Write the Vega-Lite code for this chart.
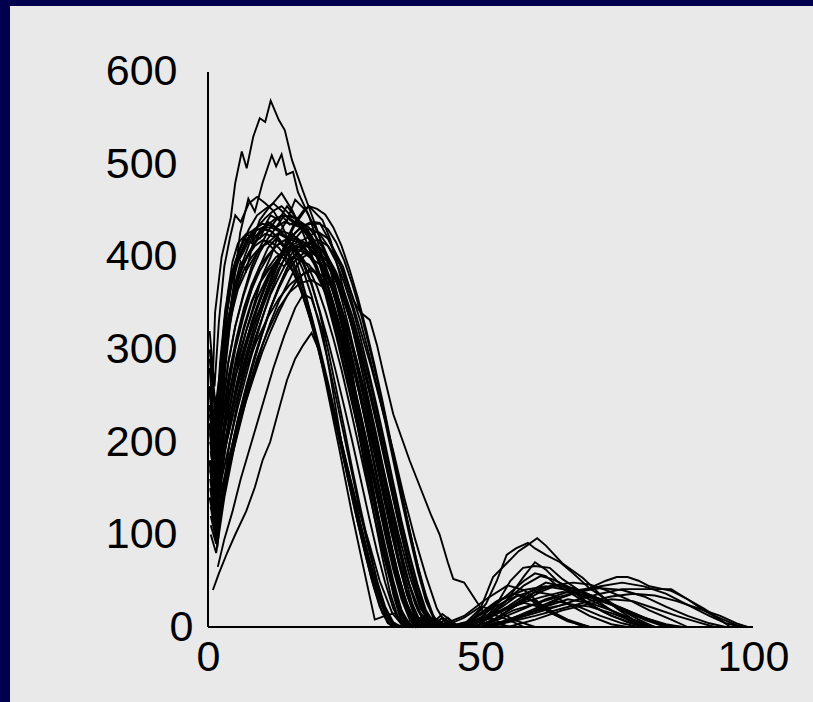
{
"$schema":"https://vega.github.io/schema/vega-lite/v6.json",
"width":803,"height":696,
"autosize":{"type":"none"},
"padding":{"left":10,"top":6,"right":0,"bottom":0},
"background":"#00004f",
"config":{"view":{"fill":"#e9e9e9","stroke":null},"axis":{"labelFont":"Liberation Sans","labelFontSize":43,"labelColor":"#000000","grid":false,"domain":false,"ticks":false,"labelOverlap":false,"labelFlush":false,"title":null}},
"datasets":{
"curves":[
{"c":1,"x":0.5,"y":200},{"c":1,"x":1.3,"y":340},{"c":1,"x":2.5,"y":400},{"c":1,"x":4.2,"y":443},{"c":1,"x":5,"y":480},{"c":1,"x":6.2,"y":514},{"c":1,"x":7.1,"y":496},{"c":1,"x":8.3,"y":530},{"c":1,"x":9.5,"y":550},{"c":1,"x":10.5,"y":546},{"c":1,"x":11.5,"y":569},{"c":1,"x":13,"y":548},{"c":1,"x":14.1,"y":537},{"c":1,"x":15.4,"y":505},{"c":1,"x":17.5,"y":470},{"c":1,"x":20,"y":430},{"c":1,"x":22.5,"y":385},{"c":1,"x":24.5,"y":330},{"c":1,"x":26.5,"y":270},{"c":1,"x":28.5,"y":205},{"c":1,"x":30.5,"y":140},{"c":1,"x":32.5,"y":80},{"c":1,"x":34,"y":35},{"c":1,"x":35.5,"y":5},{"c":1,"x":37,"y":0},{"c":1,"x":38.5,"y":6},{"c":1,"x":40,"y":0},{"c":1,"x":44,"y":5},{"c":1,"x":47,"y":0},{"c":1,"x":52,"y":10},{"c":1,"x":55,"y":0},
{"c":2,"x":0.5,"y":200},{"c":2,"x":1.5,"y":150},{"c":2,"x":3,"y":280},{"c":2,"x":4.5,"y":360},{"c":2,"x":5.9,"y":426},{"c":2,"x":7.4,"y":463},{"c":2,"x":8.6,"y":449},{"c":2,"x":10,"y":480},{"c":2,"x":11.7,"y":510},{"c":2,"x":12.5,"y":498},{"c":2,"x":13.5,"y":511},{"c":2,"x":14.4,"y":489},{"c":2,"x":15.6,"y":492},{"c":2,"x":16.5,"y":470},{"c":2,"x":18.5,"y":445},{"c":2,"x":21,"y":400},{"c":2,"x":23.5,"y":350},{"c":2,"x":26,"y":290},{"c":2,"x":28,"y":225},{"c":2,"x":30,"y":160},{"c":2,"x":32,"y":95},{"c":2,"x":34,"y":40},{"c":2,"x":35.5,"y":8},{"c":2,"x":37,"y":0},{"c":2,"x":39,"y":10},{"c":2,"x":41,"y":3},{"c":2,"x":43,"y":14},{"c":2,"x":46,"y":0},{"c":2,"x":50,"y":8},{"c":2,"x":54,"y":22},{"c":2,"x":57,"y":35},{"c":2,"x":60,"y":28},{"c":2,"x":63,"y":15},{"c":2,"x":67,"y":5},{"c":2,"x":70,"y":0},
{"c":3,"x":0.3,"y":260},{"c":3,"x":1.2,"y":170},{"c":3,"x":2,"y":260},{"c":3,"x":3,"y":330},{"c":3,"x":4,"y":372},{"c":3,"x":5,"y":395},{"c":3,"x":6.5,"y":420},{"c":3,"x":8,"y":415},{"c":3,"x":9.5,"y":440},{"c":3,"x":11,"y":452},{"c":3,"x":12.5,"y":462},{"c":3,"x":13.5,"y":469},{"c":3,"x":15.5,"y":450},{"c":3,"x":17.5,"y":425},{"c":3,"x":19.5,"y":395},{"c":3,"x":21.5,"y":360},{"c":3,"x":23.5,"y":315},{"c":3,"x":25.5,"y":265},{"c":3,"x":27.5,"y":215},{"c":3,"x":29,"y":165},{"c":3,"x":30.5,"y":120},{"c":3,"x":32,"y":75},{"c":3,"x":33.5,"y":35},{"c":3,"x":35,"y":8},{"c":3,"x":37,"y":0},{"c":3,"x":39,"y":6},{"c":3,"x":41,"y":0},{"c":3,"x":45,"y":3},{"c":3,"x":48,"y":0},
{"c":4,"x":0.4,"y":150},{"c":4,"x":1.6,"y":100},{"c":4,"x":2.5,"y":165},{"c":4,"x":4,"y":235},{"c":4,"x":5.5,"y":285},{"c":4,"x":7,"y":320},{"c":4,"x":8.5,"y":350},{"c":4,"x":10,"y":380},{"c":4,"x":11.5,"y":400},{"c":4,"x":13,"y":425},{"c":4,"x":14.5,"y":440},{"c":4,"x":16,"y":462},{"c":4,"x":18,"y":450},{"c":4,"x":20,"y":428},{"c":4,"x":22,"y":400},{"c":4,"x":23.5,"y":365},{"c":4,"x":25,"y":330},{"c":4,"x":26.5,"y":290},{"c":4,"x":28,"y":248},{"c":4,"x":29.5,"y":205},{"c":4,"x":31,"y":160},{"c":4,"x":32.5,"y":118},{"c":4,"x":34,"y":78},{"c":4,"x":35.5,"y":40},{"c":4,"x":37,"y":12},{"c":4,"x":38.5,"y":2},{"c":4,"x":40,"y":8},{"c":4,"x":42,"y":0},{"c":4,"x":47,"y":12},{"c":4,"x":51,"y":30},{"c":4,"x":55,"y":45},{"c":4,"x":58,"y":40},{"c":4,"x":61,"y":25},{"c":4,"x":65,"y":10},{"c":4,"x":69,"y":0},
{"c":5,"x":0.5,"y":300},{"c":5,"x":1.4,"y":220},{"c":5,"x":2.5,"y":235},{"c":5,"x":4,"y":255},{"c":5,"x":5.5,"y":280},{"c":5,"x":7,"y":305},{"c":5,"x":8.5,"y":330},{"c":5,"x":10,"y":350},{"c":5,"x":11.5,"y":375},{"c":5,"x":13,"y":395},{"c":5,"x":14.5,"y":420},{"c":5,"x":16,"y":438},{"c":5,"x":17.5,"y":450},{"c":5,"x":18.5,"y":455},{"c":5,"x":21,"y":440},{"c":5,"x":22.5,"y":418},{"c":5,"x":24,"y":385},{"c":5,"x":25.5,"y":350},{"c":5,"x":27,"y":310},{"c":5,"x":28.5,"y":270},{"c":5,"x":30,"y":228},{"c":5,"x":31.5,"y":185},{"c":5,"x":33,"y":140},{"c":5,"x":34.5,"y":98},{"c":5,"x":36,"y":58},{"c":5,"x":37.5,"y":25},{"c":5,"x":39,"y":5},{"c":5,"x":41,"y":0},{"c":5,"x":43,"y":10},{"c":5,"x":46,"y":0},{"c":5,"x":50,"y":15},{"c":5,"x":53,"y":28},{"c":5,"x":56,"y":36},{"c":5,"x":59,"y":30},{"c":5,"x":62,"y":18},{"c":5,"x":66,"y":6},{"c":5,"x":70,"y":0},
{"c":6,"x":0.3,"y":220},{"c":6,"x":1.5,"y":130},{"c":6,"x":2.3,"y":240},{"c":6,"x":3.2,"y":310},{"c":6,"x":4.5,"y":360},{"c":6,"x":6,"y":395},{"c":6,"x":7,"y":385},{"c":6,"x":8.5,"y":420},{"c":6,"x":10,"y":430},{"c":6,"x":11.5,"y":445},{"c":6,"x":13,"y":440},{"c":6,"x":14.5,"y":455},{"c":6,"x":16.5,"y":440},{"c":6,"x":18.5,"y":420},{"c":6,"x":20.5,"y":392},{"c":6,"x":22.5,"y":360},{"c":6,"x":24,"y":330},{"c":6,"x":25.5,"y":285},{"c":6,"x":27,"y":240},{"c":6,"x":28.5,"y":195},{"c":6,"x":30,"y":150},{"c":6,"x":31.5,"y":108},{"c":6,"x":33,"y":68},{"c":6,"x":34.5,"y":30},{"c":6,"x":36,"y":6},{"c":6,"x":38,"y":0},{"c":6,"x":40,"y":12},{"c":6,"x":42,"y":4},{"c":6,"x":44,"y":0},{"c":6,"x":48,"y":0},
{"c":7,"x":0.9,"y":40},{"c":7,"x":2,"y":58},{"c":7,"x":3.5,"y":80},{"c":7,"x":5,"y":100},{"c":7,"x":7,"y":125},{"c":7,"x":8.6,"y":151},{"c":7,"x":10,"y":180},{"c":7,"x":11.4,"y":200},{"c":7,"x":13,"y":235},{"c":7,"x":14.5,"y":267},{"c":7,"x":16,"y":290},{"c":7,"x":17.5,"y":305},{"c":7,"x":19,"y":318},{"c":7,"x":20.3,"y":300},{"c":7,"x":21.5,"y":267},{"c":7,"x":24,"y":195},{"c":7,"x":26.4,"y":123},{"c":7,"x":28.5,"y":65},{"c":7,"x":30.6,"y":8},{"c":7,"x":32.5,"y":12},{"c":7,"x":34.3,"y":15},{"c":7,"x":35.5,"y":3},{"c":7,"x":38,"y":0},{"c":7,"x":45,"y":0},
{"c":8,"x":1.8,"y":65},{"c":8,"x":3,"y":95},{"c":8,"x":4.5,"y":125},{"c":8,"x":6,"y":160},{"c":8,"x":8,"y":200},{"c":8,"x":10,"y":240},{"c":8,"x":12,"y":280},{"c":8,"x":14,"y":315},{"c":8,"x":16,"y":345},{"c":8,"x":17.5,"y":360},{"c":8,"x":19,"y":355},{"c":8,"x":21,"y":320},{"c":8,"x":22.5,"y":270},{"c":8,"x":24.6,"y":195},{"c":8,"x":27,"y":140},{"c":8,"x":29.4,"y":94},{"c":8,"x":31.5,"y":50},{"c":8,"x":33.8,"y":15},{"c":8,"x":35.5,"y":3},{"c":8,"x":37,"y":0},{"c":8,"x":39,"y":8},{"c":8,"x":41,"y":0},{"c":8,"x":44,"y":0},{"c":8,"x":48,"y":6},{"c":8,"x":52,"y":20},{"c":8,"x":56,"y":32},{"c":8,"x":60,"y":40},{"c":8,"x":64,"y":45},{"c":8,"x":68,"y":40},{"c":8,"x":72,"y":30},{"c":8,"x":76,"y":18},{"c":8,"x":80,"y":8},{"c":8,"x":84,"y":0},
{"c":9,"x":0.5,"y":180},{"c":9,"x":1.7,"y":86},{"c":9,"x":2.8,"y":150},{"c":9,"x":4,"y":200},{"c":9,"x":5.5,"y":245},{"c":9,"x":7,"y":280},{"c":9,"x":8.5,"y":310},{"c":9,"x":10,"y":335},{"c":9,"x":11.5,"y":360},{"c":9,"x":13,"y":378},{"c":9,"x":14.5,"y":395},{"c":9,"x":16,"y":410},{"c":9,"x":17.5,"y":405},{"c":9,"x":19,"y":398},{"c":9,"x":21,"y":390},{"c":9,"x":23,"y":372},{"c":9,"x":24.5,"y":345},{"c":9,"x":26,"y":312},{"c":9,"x":27.5,"y":275},{"c":9,"x":29,"y":235},{"c":9,"x":30.5,"y":195},{"c":9,"x":32,"y":150},{"c":9,"x":33.5,"y":110},{"c":9,"x":35,"y":70},{"c":9,"x":36.5,"y":35},{"c":9,"x":38,"y":10},{"c":9,"x":39.5,"y":0},{"c":9,"x":42,"y":8},{"c":9,"x":44,"y":0},{"c":9,"x":50,"y":0},{"c":9,"x":53,"y":10},{"c":9,"x":57,"y":25},{"c":9,"x":60,"y":38},{"c":9,"x":63,"y":35},{"c":9,"x":66,"y":25},{"c":9,"x":70,"y":12},{"c":9,"x":74,"y":3},{"c":9,"x":77,"y":0},
{"c":10,"x":0.3,"y":240},{"c":10,"x":1.3,"y":165},{"c":10,"x":2,"y":250},{"c":10,"x":3,"y":320},{"c":10,"x":4,"y":365},{"c":10,"x":5,"y":390},{"c":10,"x":6.5,"y":405},{"c":10,"x":8,"y":425},{"c":10,"x":9.5,"y":420},{"c":10,"x":11,"y":438},{"c":10,"x":12.5,"y":432},{"c":10,"x":14,"y":445},{"c":10,"x":15.5,"y":440},{"c":10,"x":17,"y":432},{"c":10,"x":19,"y":420},{"c":10,"x":20.5,"y":392},{"c":10,"x":22,"y":360},{"c":10,"x":23.5,"y":325},{"c":10,"x":25,"y":290},{"c":10,"x":26.5,"y":250},{"c":10,"x":28,"y":210},{"c":10,"x":29.5,"y":170},{"c":10,"x":31,"y":128},{"c":10,"x":32.5,"y":88},{"c":10,"x":34,"y":50},{"c":10,"x":35.5,"y":18},{"c":10,"x":37,"y":3},{"c":10,"x":39,"y":0},{"c":10,"x":41,"y":10},{"c":10,"x":43,"y":0},{"c":10,"x":47,"y":0},
{"c":11,"x":0.5,"y":130},{"c":11,"x":1.5,"y":95},{"c":11,"x":2.5,"y":140},{"c":11,"x":4,"y":185},{"c":11,"x":5.5,"y":225},{"c":11,"x":7,"y":258},{"c":11,"x":8.5,"y":290},{"c":11,"x":10,"y":318},{"c":11,"x":11.5,"y":345},{"c":11,"x":13,"y":368},{"c":11,"x":14.5,"y":388},{"c":11,"x":16,"y":402},{"c":11,"x":17.5,"y":410},{"c":11,"x":19,"y":415},{"c":11,"x":20.5,"y":410},{"c":11,"x":22,"y":400},{"c":11,"x":23.5,"y":384},{"c":11,"x":25,"y":362},{"c":11,"x":26.5,"y":336},{"c":11,"x":28,"y":304},{"c":11,"x":29.5,"y":270},{"c":11,"x":31,"y":232},{"c":11,"x":32.5,"y":192},{"c":11,"x":34,"y":152},{"c":11,"x":35.5,"y":112},{"c":11,"x":37,"y":75},{"c":11,"x":38.5,"y":42},{"c":11,"x":40,"y":15},{"c":11,"x":41.5,"y":3},{"c":11,"x":43,"y":0},{"c":11,"x":49,"y":0},{"c":11,"x":52,"y":12},{"c":11,"x":55,"y":30},{"c":11,"x":58,"y":55},{"c":11,"x":60,"y":70},{"c":11,"x":62,"y":62},{"c":11,"x":64,"y":50},{"c":11,"x":67,"y":38},{"c":11,"x":70,"y":25},{"c":11,"x":74,"y":12},{"c":11,"x":78,"y":4},{"c":11,"x":81,"y":0},
{"c":12,"x":0.5,"y":200},{"c":12,"x":1.5,"y":140},{"c":12,"x":3,"y":210},{"c":12,"x":5,"y":270},{"c":12,"x":7,"y":310},{"c":12,"x":9,"y":345},{"c":12,"x":11,"y":375},{"c":12,"x":13,"y":400},{"c":12,"x":15,"y":420},{"c":12,"x":17,"y":432},{"c":12,"x":19,"y":438},{"c":12,"x":20.5,"y":437},{"c":12,"x":22.5,"y":415},{"c":12,"x":24.8,"y":389},{"c":12,"x":26.7,"y":353},{"c":12,"x":28,"y":340},{"c":12,"x":29.7,"y":332},{"c":12,"x":31,"y":305},{"c":12,"x":32.2,"y":274},{"c":12,"x":34,"y":230},{"c":12,"x":37,"y":180},{"c":12,"x":39,"y":150},{"c":12,"x":41,"y":120},{"c":12,"x":42.5,"y":100},{"c":12,"x":44,"y":70},{"c":12,"x":45,"y":52},{"c":12,"x":47,"y":48},{"c":12,"x":49,"y":30},{"c":12,"x":51,"y":12},{"c":12,"x":53,"y":3},{"c":12,"x":56,"y":0},
{"c":13,"x":0.5,"y":190},{"c":13,"x":1.5,"y":150},{"c":13,"x":3,"y":220},{"c":13,"x":5,"y":280},{"c":13,"x":7,"y":320},{"c":13,"x":9,"y":355},{"c":13,"x":11,"y":380},{"c":13,"x":13,"y":400},{"c":13,"x":15,"y":412},{"c":13,"x":18,"y":420},{"c":13,"x":20,"y":428},{"c":13,"x":22,"y":420},{"c":13,"x":24,"y":395},{"c":13,"x":26,"y":360},{"c":13,"x":28,"y":320},{"c":13,"x":30,"y":280},{"c":13,"x":32,"y":235},{"c":13,"x":34,"y":190},{"c":13,"x":36,"y":140},{"c":13,"x":38,"y":95},{"c":13,"x":40,"y":55},{"c":13,"x":42,"y":20},{"c":13,"x":43.5,"y":5},{"c":13,"x":46,"y":0},{"c":13,"x":52,"y":0},
{"c":14,"x":0.4,"y":160},{"c":14,"x":1.5,"y":110},{"c":14,"x":2.3,"y":215},{"c":14,"x":3.2,"y":290},{"c":14,"x":4.2,"y":335},{"c":14,"x":5.5,"y":365},{"c":14,"x":7,"y":385},{"c":14,"x":8.5,"y":400},{"c":14,"x":10,"y":412},{"c":14,"x":11.5,"y":418},{"c":14,"x":13,"y":425},{"c":14,"x":14.5,"y":420},{"c":14,"x":16,"y":410},{"c":14,"x":17.5,"y":395},{"c":14,"x":19,"y":372},{"c":14,"x":20.5,"y":340},{"c":14,"x":22,"y":300},{"c":14,"x":23.5,"y":258},{"c":14,"x":25,"y":215},{"c":14,"x":26.5,"y":170},{"c":14,"x":28,"y":128},{"c":14,"x":29.5,"y":88},{"c":14,"x":31,"y":50},{"c":14,"x":32.5,"y":18},{"c":14,"x":34,"y":3},{"c":14,"x":36,"y":0},{"c":14,"x":38,"y":7},{"c":14,"x":40,"y":0},{"c":14,"x":46,"y":0},{"c":14,"x":50,"y":8},{"c":14,"x":54,"y":18},{"c":14,"x":58,"y":26},{"c":14,"x":62,"y":20},{"c":14,"x":66,"y":8},{"c":14,"x":70,"y":0},
{"c":15,"x":0.3,"y":280},{"c":15,"x":1.3,"y":200},{"c":15,"x":2.2,"y":285},{"c":15,"x":3.2,"y":345},{"c":15,"x":4.5,"y":385},{"c":15,"x":6,"y":410},{"c":15,"x":7.5,"y":430},{"c":15,"x":9,"y":445},{"c":15,"x":10.5,"y":452},{"c":15,"x":12,"y":458},{"c":15,"x":13.5,"y":450},{"c":15,"x":15,"y":440},{"c":15,"x":16.5,"y":435},{"c":15,"x":18,"y":425},{"c":15,"x":19.5,"y":410},{"c":15,"x":21,"y":388},{"c":15,"x":22.5,"y":358},{"c":15,"x":24,"y":320},{"c":15,"x":25.5,"y":280},{"c":15,"x":27,"y":238},{"c":15,"x":28.5,"y":195},{"c":15,"x":30,"y":152},{"c":15,"x":31.5,"y":110},{"c":15,"x":33,"y":70},{"c":15,"x":34.5,"y":35},{"c":15,"x":36,"y":10},{"c":15,"x":37.5,"y":0},{"c":15,"x":39.5,"y":8},{"c":15,"x":41,"y":0},{"c":15,"x":44,"y":0},
{"c":16,"x":0.5,"y":110},{"c":16,"x":1.5,"y":90},{"c":16,"x":2.5,"y":130},{"c":16,"x":4,"y":175},{"c":16,"x":5.5,"y":210},{"c":16,"x":7,"y":245},{"c":16,"x":8.5,"y":275},{"c":16,"x":10,"y":305},{"c":16,"x":11.5,"y":330},{"c":16,"x":13,"y":352},{"c":16,"x":14.5,"y":370},{"c":16,"x":16,"y":388},{"c":16,"x":17.5,"y":400},{"c":16,"x":19,"y":405},{"c":16,"x":20.5,"y":402},{"c":16,"x":22,"y":395},{"c":16,"x":23.5,"y":380},{"c":16,"x":25,"y":355},{"c":16,"x":26.5,"y":322},{"c":16,"x":28,"y":285},{"c":16,"x":29.5,"y":245},{"c":16,"x":31,"y":205},{"c":16,"x":32.5,"y":162},{"c":16,"x":34,"y":120},{"c":16,"x":35.5,"y":80},{"c":16,"x":37,"y":45},{"c":16,"x":38.5,"y":18},{"c":16,"x":40,"y":3},{"c":16,"x":42,"y":0},{"c":16,"x":45,"y":0},{"c":16,"x":49,"y":6},{"c":16,"x":53,"y":15},{"c":16,"x":57,"y":25},{"c":16,"x":61,"y":32},{"c":16,"x":65,"y":38},{"c":16,"x":69,"y":35},{"c":16,"x":73,"y":28},{"c":16,"x":77,"y":18},{"c":16,"x":81,"y":8},{"c":16,"x":85,"y":0},
{"c":17,"x":0.4,"y":210},{"c":17,"x":1.6,"y":140},{"c":17,"x":2.6,"y":205},{"c":17,"x":3.8,"y":260},{"c":17,"x":5,"y":300},{"c":17,"x":6.5,"y":335},{"c":17,"x":8,"y":365},{"c":17,"x":9.5,"y":390},{"c":17,"x":11,"y":410},{"c":17,"x":12.5,"y":420},{"c":17,"x":14,"y":410},{"c":17,"x":15.5,"y":425},{"c":17,"x":17,"y":412},{"c":17,"x":18.5,"y":405},{"c":17,"x":20,"y":390},{"c":17,"x":21.5,"y":362},{"c":17,"x":23,"y":330},{"c":17,"x":24.5,"y":295},{"c":17,"x":26,"y":256},{"c":17,"x":27.5,"y":215},{"c":17,"x":29,"y":172},{"c":17,"x":30.5,"y":130},{"c":17,"x":32,"y":88},{"c":17,"x":33.5,"y":50},{"c":17,"x":35,"y":20},{"c":17,"x":36.5,"y":4},{"c":17,"x":38.5,"y":0},{"c":17,"x":41,"y":9},{"c":17,"x":43,"y":0},{"c":17,"x":48,"y":0},
{"c":18,"x":0.3,"y":300},{"c":18,"x":1.4,"y":240},{"c":18,"x":2.3,"y":280},{"c":18,"x":3.5,"y":330},{"c":18,"x":5,"y":365},{"c":18,"x":6.5,"y":392},{"c":18,"x":8,"y":410},{"c":18,"x":9.5,"y":425},{"c":18,"x":11,"y":435},{"c":18,"x":12.5,"y":442},{"c":18,"x":14,"y":445},{"c":18,"x":15.5,"y":443},{"c":18,"x":17,"y":438},{"c":18,"x":18.5,"y":432},{"c":18,"x":20,"y":420},{"c":18,"x":21.5,"y":405},{"c":18,"x":23,"y":385},{"c":18,"x":24.5,"y":355},{"c":18,"x":26,"y":320},{"c":18,"x":27.5,"y":282},{"c":18,"x":29,"y":242},{"c":18,"x":30.5,"y":200},{"c":18,"x":32,"y":158},{"c":18,"x":33.5,"y":115},{"c":18,"x":35,"y":75},{"c":18,"x":36.5,"y":40},{"c":18,"x":38,"y":14},{"c":18,"x":39.5,"y":3},{"c":18,"x":41,"y":0},{"c":18,"x":47,"y":0},{"c":18,"x":51,"y":10},{"c":18,"x":55,"y":22},{"c":18,"x":59,"y":38},{"c":18,"x":62,"y":48},{"c":18,"x":65,"y":44},{"c":18,"x":68,"y":36},{"c":18,"x":72,"y":28},{"c":18,"x":76,"y":20},{"c":18,"x":80,"y":10},{"c":18,"x":84,"y":2},{"c":18,"x":87,"y":0},
{"c":19,"x":0.5,"y":170},{"c":19,"x":1.5,"y":120},{"c":19,"x":2.5,"y":150},{"c":19,"x":4,"y":185},{"c":19,"x":5.5,"y":215},{"c":19,"x":7,"y":245},{"c":19,"x":8.5,"y":272},{"c":19,"x":10,"y":298},{"c":19,"x":11.5,"y":320},{"c":19,"x":13,"y":340},{"c":19,"x":14.5,"y":358},{"c":19,"x":16,"y":372},{"c":19,"x":17.5,"y":382},{"c":19,"x":19,"y":388},{"c":19,"x":20.5,"y":380},{"c":19,"x":22,"y":362},{"c":19,"x":23.5,"y":338},{"c":19,"x":25,"y":305},{"c":19,"x":26.5,"y":268},{"c":19,"x":28,"y":228},{"c":19,"x":29.5,"y":186},{"c":19,"x":31,"y":142},{"c":19,"x":32.5,"y":100},{"c":19,"x":34,"y":62},{"c":19,"x":35.5,"y":30},{"c":19,"x":37,"y":8},{"c":19,"x":38.5,"y":0},{"c":19,"x":40.5,"y":10},{"c":19,"x":42.5,"y":2},{"c":19,"x":46,"y":0},
{"c":20,"x":0.4,"y":250},{"c":20,"x":1.5,"y":180},{"c":20,"x":2.5,"y":230},{"c":20,"x":3.7,"y":285},{"c":20,"x":5,"y":325},{"c":20,"x":6.5,"y":358},{"c":20,"x":8,"y":385},{"c":20,"x":9.5,"y":405},{"c":20,"x":11,"y":420},{"c":20,"x":12.5,"y":432},{"c":20,"x":14,"y":438},{"c":20,"x":15.5,"y":435},{"c":20,"x":17,"y":432},{"c":20,"x":18.5,"y":425},{"c":20,"x":20,"y":410},{"c":20,"x":21.5,"y":388},{"c":20,"x":23,"y":362},{"c":20,"x":24.5,"y":332},{"c":20,"x":26,"y":298},{"c":20,"x":27.5,"y":260},{"c":20,"x":29,"y":220},{"c":20,"x":30.5,"y":178},{"c":20,"x":32,"y":135},{"c":20,"x":33.5,"y":92},{"c":20,"x":35,"y":55},{"c":20,"x":36.5,"y":25},{"c":20,"x":38,"y":8},{"c":20,"x":39.5,"y":0},{"c":20,"x":47,"y":0},{"c":20,"x":50,"y":10},{"c":20,"x":53,"y":25},{"c":20,"x":56,"y":40},{"c":20,"x":58,"y":50},{"c":20,"x":60,"y":58},{"c":20,"x":62,"y":55},{"c":20,"x":64,"y":45},{"c":20,"x":67,"y":35},{"c":20,"x":70,"y":24},{"c":20,"x":73,"y":15},{"c":20,"x":77,"y":5},{"c":20,"x":80,"y":0},
{"c":21,"x":0.5,"y":190},{"c":21,"x":1.5,"y":150},{"c":21,"x":2.5,"y":185},{"c":21,"x":4,"y":225},{"c":21,"x":5.5,"y":260},{"c":21,"x":7,"y":290},{"c":21,"x":8.5,"y":318},{"c":21,"x":10,"y":345},{"c":21,"x":11.5,"y":368},{"c":21,"x":13,"y":388},{"c":21,"x":14.5,"y":402},{"c":21,"x":16,"y":412},{"c":21,"x":17.5,"y":416},{"c":21,"x":19,"y":414},{"c":21,"x":20.5,"y":410},{"c":21,"x":22,"y":397},{"c":21,"x":23.5,"y":380},{"c":21,"x":25,"y":358},{"c":21,"x":26.5,"y":330},{"c":21,"x":28,"y":298},{"c":21,"x":29.5,"y":262},{"c":21,"x":31,"y":225},{"c":21,"x":32.5,"y":185},{"c":21,"x":34,"y":145},{"c":21,"x":35.5,"y":105},{"c":21,"x":37,"y":68},{"c":21,"x":38.5,"y":36},{"c":21,"x":40,"y":12},{"c":21,"x":41.5,"y":2},{"c":21,"x":43,"y":0},{"c":21,"x":48,"y":0},{"c":21,"x":52,"y":6},{"c":21,"x":56,"y":18},{"c":21,"x":60,"y":25},{"c":21,"x":64,"y":32},{"c":21,"x":68,"y":38},{"c":21,"x":72,"y":42},{"c":21,"x":76,"y":40},{"c":21,"x":80,"y":33},{"c":21,"x":84,"y":22},{"c":21,"x":88,"y":12},{"c":21,"x":92,"y":4},{"c":21,"x":95,"y":0},
{"c":22,"x":0.3,"y":140},{"c":22,"x":1.4,"y":105},{"c":22,"x":2.2,"y":200},{"c":22,"x":3,"y":270},{"c":22,"x":4,"y":325},{"c":22,"x":5,"y":360},{"c":22,"x":6.5,"y":385},{"c":22,"x":8,"y":400},{"c":22,"x":9.5,"y":410},{"c":22,"x":11,"y":415},{"c":22,"x":12.5,"y":405},{"c":22,"x":14,"y":398},{"c":22,"x":15.5,"y":385},{"c":22,"x":17,"y":365},{"c":22,"x":18.5,"y":338},{"c":22,"x":20,"y":305},{"c":22,"x":21.5,"y":270},{"c":22,"x":23,"y":232},{"c":22,"x":24.5,"y":192},{"c":22,"x":26,"y":152},{"c":22,"x":27.5,"y":112},{"c":22,"x":29,"y":75},{"c":22,"x":30.5,"y":42},{"c":22,"x":32,"y":15},{"c":22,"x":33.5,"y":2},{"c":22,"x":35,"y":0},{"c":22,"x":44,"y":0},{"c":22,"x":47,"y":5},{"c":22,"x":50,"y":0},
{"c":23,"x":0.4,"y":230},{"c":23,"x":1.5,"y":175},{"c":23,"x":2.5,"y":230},{"c":23,"x":3.7,"y":285},{"c":23,"x":5,"y":325},{"c":23,"x":6.5,"y":360},{"c":23,"x":8,"y":390},{"c":23,"x":9.5,"y":410},{"c":23,"x":11,"y":428},{"c":23,"x":12.5,"y":440},{"c":23,"x":13.5,"y":445},{"c":23,"x":15,"y":435},{"c":23,"x":16.5,"y":440},{"c":23,"x":18.5,"y":425},{"c":23,"x":20,"y":405},{"c":23,"x":21.5,"y":380},{"c":23,"x":23,"y":350},{"c":23,"x":24.5,"y":316},{"c":23,"x":26,"y":280},{"c":23,"x":27.5,"y":242},{"c":23,"x":29,"y":202},{"c":23,"x":30.5,"y":162},{"c":23,"x":32,"y":122},{"c":23,"x":33.5,"y":82},{"c":23,"x":35,"y":46},{"c":23,"x":36.5,"y":18},{"c":23,"x":38,"y":3},{"c":23,"x":40,"y":0},{"c":23,"x":45,"y":0},{"c":23,"x":47,"y":3},{"c":23,"x":50,"y":20},{"c":23,"x":52.3,"y":54},{"c":23,"x":55,"y":70},{"c":23,"x":57,"y":82},{"c":23,"x":58.5,"y":88},{"c":23,"x":60.4,"y":96},{"c":23,"x":62,"y":88},{"c":23,"x":65,"y":69},{"c":23,"x":68.8,"y":53},{"c":23,"x":72,"y":35},{"c":23,"x":75,"y":20},{"c":23,"x":78,"y":8},{"c":23,"x":81,"y":0},
{"c":24,"x":0.3,"y":260},{"c":24,"x":1.5,"y":210},{"c":24,"x":2.4,"y":265},{"c":24,"x":3.5,"y":320},{"c":24,"x":4.8,"y":360},{"c":24,"x":6.2,"y":392},{"c":24,"x":7.6,"y":415},{"c":24,"x":9,"y":432},{"c":24,"x":10.5,"y":442},{"c":24,"x":12,"y":450},{"c":24,"x":13.5,"y":455},{"c":24,"x":15,"y":446},{"c":24,"x":16.5,"y":440},{"c":24,"x":18,"y":432},{"c":24,"x":19.5,"y":418},{"c":24,"x":21,"y":400},{"c":24,"x":22.5,"y":375},{"c":24,"x":24,"y":345},{"c":24,"x":25.5,"y":310},{"c":24,"x":27,"y":272},{"c":24,"x":28.5,"y":232},{"c":24,"x":30,"y":190},{"c":24,"x":31.5,"y":148},{"c":24,"x":33,"y":106},{"c":24,"x":34.5,"y":66},{"c":24,"x":36,"y":34},{"c":24,"x":37.5,"y":10},{"c":24,"x":39,"y":0},{"c":24,"x":41,"y":8},{"c":24,"x":43,"y":0},{"c":24,"x":45,"y":0},{"c":24,"x":48,"y":5},{"c":24,"x":51,"y":25},{"c":24,"x":53,"y":50},{"c":24,"x":54.8,"y":78},{"c":24,"x":56.5,"y":85},{"c":24,"x":58.7,"y":91},{"c":24,"x":60,"y":85},{"c":24,"x":62,"y":78},{"c":24,"x":64.6,"y":70},{"c":24,"x":67,"y":58},{"c":24,"x":70,"y":42},{"c":24,"x":73,"y":30},{"c":24,"x":76,"y":18},{"c":24,"x":79,"y":8},{"c":24,"x":82,"y":0},
{"c":25,"x":0.5,"y":170},{"c":25,"x":1.5,"y":130},{"c":25,"x":2.5,"y":160},{"c":25,"x":4,"y":200},{"c":25,"x":5.5,"y":238},{"c":25,"x":7,"y":272},{"c":25,"x":8.5,"y":305},{"c":25,"x":10,"y":335},{"c":25,"x":11.5,"y":362},{"c":25,"x":13,"y":385},{"c":25,"x":14.5,"y":405},{"c":25,"x":16,"y":420},{"c":25,"x":17.5,"y":430},{"c":25,"x":19,"y":430},{"c":25,"x":20.5,"y":425},{"c":25,"x":22,"y":412},{"c":25,"x":23.5,"y":395},{"c":25,"x":25,"y":372},{"c":25,"x":26.5,"y":345},{"c":25,"x":28,"y":312},{"c":25,"x":29.5,"y":276},{"c":25,"x":31,"y":238},{"c":25,"x":32.5,"y":198},{"c":25,"x":34,"y":156},{"c":25,"x":35.5,"y":115},{"c":25,"x":37,"y":78},{"c":25,"x":38.5,"y":45},{"c":25,"x":40,"y":18},{"c":25,"x":41.5,"y":4},{"c":25,"x":43,"y":0},{"c":25,"x":48,"y":0},{"c":25,"x":51,"y":10},{"c":25,"x":53,"y":25},{"c":25,"x":55.5,"y":50},{"c":25,"x":57.8,"y":64},{"c":25,"x":60,"y":66},{"c":25,"x":62.7,"y":64},{"c":25,"x":65,"y":52},{"c":25,"x":68,"y":40},{"c":25,"x":71,"y":30},{"c":25,"x":74,"y":18},{"c":25,"x":77,"y":8},{"c":25,"x":80,"y":0},
{"c":26,"x":0.4,"y":200},{"c":26,"x":1.5,"y":160},{"c":26,"x":2.5,"y":215},{"c":26,"x":3.8,"y":268},{"c":26,"x":5.2,"y":308},{"c":26,"x":6.6,"y":340},{"c":26,"x":8,"y":365},{"c":26,"x":9.5,"y":385},{"c":26,"x":11,"y":400},{"c":26,"x":12.5,"y":412},{"c":26,"x":14,"y":418},{"c":26,"x":15.5,"y":420},{"c":26,"x":17,"y":418},{"c":26,"x":18.5,"y":412},{"c":26,"x":20,"y":400},{"c":26,"x":21.5,"y":384},{"c":26,"x":23,"y":362},{"c":26,"x":24.5,"y":335},{"c":26,"x":26,"y":302},{"c":26,"x":27.5,"y":266},{"c":26,"x":29,"y":228},{"c":26,"x":30.5,"y":188},{"c":26,"x":32,"y":146},{"c":26,"x":33.5,"y":105},{"c":26,"x":35,"y":68},{"c":26,"x":36.5,"y":36},{"c":26,"x":38,"y":12},{"c":26,"x":39.5,"y":2},{"c":26,"x":41,"y":0},{"c":26,"x":43,"y":10},{"c":26,"x":45,"y":0},{"c":26,"x":50,"y":0},{"c":26,"x":54,"y":10},{"c":26,"x":58,"y":20},{"c":26,"x":62,"y":30},{"c":26,"x":66,"y":38},{"c":26,"x":70,"y":42},{"c":26,"x":73,"y":50},{"c":26,"x":75,"y":54},{"c":26,"x":77,"y":54},{"c":26,"x":79,"y":50},{"c":26,"x":81,"y":44},{"c":26,"x":85,"y":39},{"c":26,"x":88,"y":30},{"c":26,"x":91,"y":20},{"c":26,"x":93,"y":12},{"c":26,"x":95,"y":7},{"c":26,"x":97,"y":2},{"c":26,"x":99,"y":0},
{"c":27,"x":0.5,"y":150},{"c":27,"x":1.5,"y":115},{"c":27,"x":2.5,"y":170},{"c":27,"x":3.8,"y":220},{"c":27,"x":5.2,"y":262},{"c":27,"x":6.6,"y":298},{"c":27,"x":8,"y":330},{"c":27,"x":9.5,"y":355},{"c":27,"x":11,"y":378},{"c":27,"x":12.5,"y":395},{"c":27,"x":14,"y":406},{"c":27,"x":15.5,"y":412},{"c":27,"x":17,"y":410},{"c":27,"x":18.5,"y":402},{"c":27,"x":20,"y":388},{"c":27,"x":21.5,"y":368},{"c":27,"x":23,"y":344},{"c":27,"x":24.5,"y":314},{"c":27,"x":26,"y":280},{"c":27,"x":27.5,"y":244},{"c":27,"x":29,"y":205},{"c":27,"x":30.5,"y":165},{"c":27,"x":32,"y":124},{"c":27,"x":33.5,"y":84},{"c":27,"x":35,"y":48},{"c":27,"x":36.5,"y":18},{"c":27,"x":38,"y":3},{"c":27,"x":39.5,"y":0},{"c":27,"x":41,"y":8},{"c":27,"x":43,"y":0},{"c":27,"x":52,"y":0},{"c":27,"x":56,"y":8},{"c":27,"x":60,"y":15},{"c":27,"x":64,"y":22},{"c":27,"x":68,"y":30},{"c":27,"x":72,"y":36},{"c":27,"x":76,"y":41},{"c":27,"x":80,"y":41},{"c":27,"x":83,"y":41},{"c":27,"x":85,"y":41},{"c":27,"x":88,"y":30},{"c":27,"x":91,"y":18},{"c":27,"x":94,"y":8},{"c":27,"x":95.8,"y":0},
{"c":28,"x":0.3,"y":220},{"c":28,"x":1.4,"y":170},{"c":28,"x":2.2,"y":260},{"c":28,"x":3.1,"y":325},{"c":28,"x":4.2,"y":370},{"c":28,"x":5.5,"y":398},{"c":28,"x":7,"y":418},{"c":28,"x":8.5,"y":430},{"c":28,"x":10,"y":436},{"c":28,"x":11.5,"y":434},{"c":28,"x":13,"y":430},{"c":28,"x":14.5,"y":420},{"c":28,"x":16,"y":405},{"c":28,"x":17.5,"y":385},{"c":28,"x":19,"y":358},{"c":28,"x":20.5,"y":325},{"c":28,"x":22,"y":288},{"c":28,"x":23.5,"y":248},{"c":28,"x":25,"y":206},{"c":28,"x":26.5,"y":164},{"c":28,"x":28,"y":122},{"c":28,"x":29.5,"y":84},{"c":28,"x":31,"y":50},{"c":28,"x":32.5,"y":22},{"c":28,"x":34,"y":5},{"c":28,"x":35.5,"y":0},{"c":28,"x":37.5,"y":9},{"c":28,"x":39,"y":0},{"c":28,"x":48,"y":0},
{"c":29,"x":0.4,"y":180},{"c":29,"x":1.5,"y":135},{"c":29,"x":2.5,"y":195},{"c":29,"x":3.8,"y":250},{"c":29,"x":5.2,"y":292},{"c":29,"x":6.6,"y":325},{"c":29,"x":8,"y":352},{"c":29,"x":9.5,"y":372},{"c":29,"x":11,"y":385},{"c":29,"x":12.5,"y":395},{"c":29,"x":14,"y":390},{"c":29,"x":15.5,"y":400},{"c":29,"x":17,"y":396},{"c":29,"x":18.5,"y":392},{"c":29,"x":20,"y":380},{"c":29,"x":21.5,"y":362},{"c":29,"x":23,"y":338},{"c":29,"x":24.5,"y":308},{"c":29,"x":26,"y":274},{"c":29,"x":27.5,"y":238},{"c":29,"x":29,"y":198},{"c":29,"x":30.5,"y":158},{"c":29,"x":32,"y":118},{"c":29,"x":33.5,"y":80},{"c":29,"x":35,"y":45},{"c":29,"x":36.5,"y":18},{"c":29,"x":38,"y":3},{"c":29,"x":39.5,"y":0},{"c":29,"x":46,"y":0},{"c":29,"x":50,"y":14},{"c":29,"x":54,"y":30},{"c":29,"x":58,"y":40},{"c":29,"x":62,"y":44},{"c":29,"x":66,"y":40},{"c":29,"x":70,"y":30},{"c":29,"x":74,"y":18},{"c":29,"x":78,"y":8},{"c":29,"x":82,"y":0},
{"c":30,"x":0.5,"y":120},{"c":30,"x":1.5,"y":95},{"c":30,"x":2.5,"y":135},{"c":30,"x":4,"y":180},{"c":30,"x":5.5,"y":220},{"c":30,"x":7,"y":255},{"c":30,"x":8.5,"y":288},{"c":30,"x":10,"y":318},{"c":30,"x":11.5,"y":345},{"c":30,"x":13,"y":368},{"c":30,"x":14.5,"y":388},{"c":30,"x":16,"y":402},{"c":30,"x":17.5,"y":412},{"c":30,"x":19,"y":418},{"c":30,"x":20.5,"y":418},{"c":30,"x":22,"y":412},{"c":30,"x":23.5,"y":400},{"c":30,"x":25,"y":382},{"c":30,"x":26.5,"y":358},{"c":30,"x":28,"y":330},{"c":30,"x":29.5,"y":296},{"c":30,"x":31,"y":260},{"c":30,"x":32.5,"y":222},{"c":30,"x":34,"y":180},{"c":30,"x":35.5,"y":138},{"c":30,"x":37,"y":98},{"c":30,"x":38.5,"y":60},{"c":30,"x":40,"y":28},{"c":30,"x":41.5,"y":8},{"c":30,"x":43,"y":0},{"c":30,"x":50,"y":0},{"c":30,"x":55,"y":6},{"c":30,"x":60,"y":18},{"c":30,"x":64,"y":28},{"c":30,"x":68,"y":22},{"c":30,"x":72,"y":12},{"c":30,"x":76,"y":4},{"c":30,"x":79,"y":0},
{"c":31,"x":0.3,"y":260},{"c":31,"x":1.4,"y":200},{"c":31,"x":2.2,"y":275},{"c":31,"x":3.2,"y":340},{"c":31,"x":4.4,"y":382},{"c":31,"x":5.8,"y":408},{"c":31,"x":7.2,"y":425},{"c":31,"x":8.6,"y":430},{"c":31,"x":10,"y":430},{"c":31,"x":11.5,"y":428},{"c":31,"x":13,"y":420},{"c":31,"x":14.5,"y":405},{"c":31,"x":16,"y":385},{"c":31,"x":17.5,"y":360},{"c":31,"x":19,"y":330},{"c":31,"x":20.5,"y":296},{"c":31,"x":22,"y":260},{"c":31,"x":23.5,"y":222},{"c":31,"x":25,"y":182},{"c":31,"x":26.5,"y":142},{"c":31,"x":28,"y":104},{"c":31,"x":29.5,"y":68},{"c":31,"x":31,"y":38},{"c":31,"x":32.5,"y":14},{"c":31,"x":34,"y":2},{"c":31,"x":35.5,"y":0},{"c":31,"x":48,"y":0},
{"c":32,"x":0.5,"y":200},{"c":32,"x":1.5,"y":155},{"c":32,"x":2.5,"y":185},{"c":32,"x":4,"y":225},{"c":32,"x":5.5,"y":262},{"c":32,"x":7,"y":295},{"c":32,"x":8.5,"y":325},{"c":32,"x":10,"y":352},{"c":32,"x":11.5,"y":376},{"c":32,"x":13,"y":398},{"c":32,"x":14.5,"y":418},{"c":32,"x":16,"y":435},{"c":32,"x":17.5,"y":448},{"c":32,"x":18.5,"y":455},{"c":32,"x":20,"y":452},{"c":32,"x":21.5,"y":446},{"c":32,"x":23,"y":432},{"c":32,"x":24.5,"y":412},{"c":32,"x":26,"y":386},{"c":32,"x":27.5,"y":356},{"c":32,"x":29,"y":322},{"c":32,"x":30.5,"y":285},{"c":32,"x":32,"y":245},{"c":32,"x":33.5,"y":202},{"c":32,"x":35,"y":160},{"c":32,"x":36.5,"y":118},{"c":32,"x":38,"y":78},{"c":32,"x":39.5,"y":42},{"c":32,"x":41,"y":15},{"c":32,"x":42.5,"y":3},{"c":32,"x":44,"y":0},{"c":32,"x":47,"y":0},{"c":32,"x":51,"y":8},{"c":32,"x":55,"y":20},{"c":32,"x":59,"y":35},{"c":32,"x":63,"y":45},{"c":32,"x":67,"y":48},{"c":32,"x":70,"y":46},{"c":32,"x":73,"y":40},{"c":32,"x":77,"y":30},{"c":32,"x":81,"y":18},{"c":32,"x":85,"y":8},{"c":32,"x":88,"y":0},
{"c":33,"x":0.4,"y":170},{"c":33,"x":1.5,"y":125},{"c":33,"x":2.5,"y":190},{"c":33,"x":3.8,"y":245},{"c":33,"x":5.2,"y":288},{"c":33,"x":6.6,"y":322},{"c":33,"x":8,"y":350},{"c":33,"x":9.5,"y":372},{"c":33,"x":11,"y":388},{"c":33,"x":12.5,"y":400},{"c":33,"x":14,"y":406},{"c":33,"x":15.5,"y":408},{"c":33,"x":17,"y":402},{"c":33,"x":18.5,"y":388},{"c":33,"x":20,"y":368},{"c":33,"x":21.5,"y":342},{"c":33,"x":23,"y":312},{"c":33,"x":24.5,"y":278},{"c":33,"x":26,"y":240},{"c":33,"x":27.5,"y":200},{"c":33,"x":29,"y":160},{"c":33,"x":30.5,"y":120},{"c":33,"x":32,"y":82},{"c":33,"x":33.5,"y":48},{"c":33,"x":35,"y":20},{"c":33,"x":36.5,"y":4},{"c":33,"x":38,"y":0},{"c":33,"x":40,"y":12},{"c":33,"x":42,"y":2},{"c":33,"x":44,"y":10},{"c":33,"x":46,"y":0},{"c":33,"x":49,"y":0},{"c":33,"x":53,"y":10},{"c":33,"x":57,"y":25},{"c":33,"x":61,"y":38},{"c":33,"x":64,"y":45},{"c":33,"x":67,"y":42},{"c":33,"x":70,"y":35},{"c":33,"x":74,"y":25},{"c":33,"x":78,"y":14},{"c":33,"x":82,"y":5},{"c":33,"x":85,"y":0},
{"c":34,"x":0.3,"y":230},{"c":34,"x":1.4,"y":180},{"c":34,"x":2.2,"y":250},{"c":34,"x":3.2,"y":312},{"c":34,"x":4.4,"y":352},{"c":34,"x":5.8,"y":382},{"c":34,"x":7.2,"y":400},{"c":34,"x":8.6,"y":412},{"c":34,"x":10,"y":418},{"c":34,"x":11.5,"y":416},{"c":34,"x":13,"y":410},{"c":34,"x":14.5,"y":398},{"c":34,"x":16,"y":380},{"c":34,"x":17.5,"y":356},{"c":34,"x":19,"y":328},{"c":34,"x":20.5,"y":296},{"c":34,"x":22,"y":262},{"c":34,"x":23.5,"y":225},{"c":34,"x":25,"y":188},{"c":34,"x":26.5,"y":150},{"c":34,"x":28,"y":112},{"c":34,"x":29.5,"y":76},{"c":34,"x":31,"y":44},{"c":34,"x":32.5,"y":18},{"c":34,"x":34,"y":3},{"c":34,"x":35.5,"y":0},{"c":34,"x":48,"y":0},
{"c":35,"x":0.3,"y":290},{"c":35,"x":1.4,"y":230},{"c":35,"x":2.3,"y":275},{"c":35,"x":3.4,"y":322},{"c":35,"x":4.7,"y":360},{"c":35,"x":6.1,"y":388},{"c":35,"x":7.5,"y":405},{"c":35,"x":9,"y":418},{"c":35,"x":10.5,"y":425},{"c":35,"x":12,"y":422},{"c":35,"x":13.5,"y":428},{"c":35,"x":15,"y":425},{"c":35,"x":16.5,"y":420},{"c":35,"x":18,"y":408},{"c":35,"x":19.5,"y":392},{"c":35,"x":21,"y":370},{"c":35,"x":22.5,"y":345},{"c":35,"x":24,"y":315},{"c":35,"x":25.5,"y":282},{"c":35,"x":27,"y":246},{"c":35,"x":28.5,"y":208},{"c":35,"x":30,"y":168},{"c":35,"x":31.5,"y":128},{"c":35,"x":33,"y":90},{"c":35,"x":34.5,"y":55},{"c":35,"x":36,"y":26},{"c":35,"x":37.5,"y":8},{"c":35,"x":39,"y":0},{"c":35,"x":47,"y":0},{"c":35,"x":51,"y":12},{"c":35,"x":55,"y":30},{"c":35,"x":58,"y":45},{"c":35,"x":61,"y":55},{"c":35,"x":63,"y":52},{"c":35,"x":66,"y":44},{"c":35,"x":69,"y":36},{"c":35,"x":72,"y":30},{"c":35,"x":76,"y":20},{"c":35,"x":80,"y":10},{"c":35,"x":84,"y":3},{"c":35,"x":87,"y":0},
{"c":36,"x":0.5,"y":140},{"c":36,"x":1.5,"y":100},{"c":36,"x":2.5,"y":140},{"c":36,"x":4,"y":185},{"c":36,"x":5.5,"y":225},{"c":36,"x":7,"y":260},{"c":36,"x":8.5,"y":292},{"c":36,"x":10,"y":320},{"c":36,"x":11.5,"y":345},{"c":36,"x":13,"y":366},{"c":36,"x":14.5,"y":384},{"c":36,"x":16,"y":396},{"c":36,"x":17.5,"y":404},{"c":36,"x":19,"y":404},{"c":36,"x":20.5,"y":400},{"c":36,"x":22,"y":390},{"c":36,"x":23.5,"y":374},{"c":36,"x":25,"y":352},{"c":36,"x":26.5,"y":324},{"c":36,"x":28,"y":292},{"c":36,"x":29.5,"y":256},{"c":36,"x":31,"y":218},{"c":36,"x":32.5,"y":178},{"c":36,"x":34,"y":138},{"c":36,"x":35.5,"y":100},{"c":36,"x":37,"y":64},{"c":36,"x":38.5,"y":34},{"c":36,"x":40,"y":10},{"c":36,"x":41.5,"y":0},{"c":36,"x":50,"y":0},{"c":36,"x":55,"y":5},{"c":36,"x":60,"y":12},{"c":36,"x":65,"y":20},{"c":36,"x":70,"y":28},{"c":36,"x":74,"y":33},{"c":36,"x":78,"y":36},{"c":36,"x":82,"y":34},{"c":36,"x":86,"y":28},{"c":36,"x":90,"y":20},{"c":36,"x":94,"y":12},{"c":36,"x":97,"y":4},{"c":36,"x":99,"y":0},
{"c":37,"x":0.4,"y":210},{"c":37,"x":1.5,"y":165},{"c":37,"x":2.5,"y":220},{"c":37,"x":3.8,"y":272},{"c":37,"x":5.2,"y":312},{"c":37,"x":6.6,"y":345},{"c":37,"x":8,"y":370},{"c":37,"x":9.5,"y":390},{"c":37,"x":11,"y":402},{"c":37,"x":12.5,"y":412},{"c":37,"x":14,"y":418},{"c":37,"x":15.5,"y":418},{"c":37,"x":17,"y":415},{"c":37,"x":18.5,"y":410},{"c":37,"x":20,"y":400},{"c":37,"x":21.5,"y":386},{"c":37,"x":23,"y":368},{"c":37,"x":24.5,"y":344},{"c":37,"x":26,"y":314},{"c":37,"x":27.5,"y":280},{"c":37,"x":29,"y":244},{"c":37,"x":30.5,"y":205},{"c":37,"x":32,"y":165},{"c":37,"x":33.5,"y":125},{"c":37,"x":35,"y":88},{"c":37,"x":36.5,"y":54},{"c":37,"x":38,"y":25},{"c":37,"x":39.5,"y":8},{"c":37,"x":41,"y":0},{"c":37,"x":43,"y":0},{"c":37,"x":47,"y":10},{"c":37,"x":50,"y":22},{"c":37,"x":53,"y":18},{"c":37,"x":56,"y":8},{"c":37,"x":60,"y":0},
{"c":38,"x":0.5,"y":180},{"c":38,"x":1.5,"y":140},{"c":38,"x":2.5,"y":175},{"c":38,"x":4,"y":215},{"c":38,"x":5.5,"y":252},{"c":38,"x":7,"y":286},{"c":38,"x":8.5,"y":318},{"c":38,"x":10,"y":346},{"c":38,"x":11.5,"y":372},{"c":38,"x":13,"y":394},{"c":38,"x":14.5,"y":412},{"c":38,"x":16,"y":426},{"c":38,"x":17.5,"y":434},{"c":38,"x":19,"y":436},{"c":38,"x":20.5,"y":436},{"c":38,"x":22,"y":430},{"c":38,"x":23.5,"y":416},{"c":38,"x":25,"y":396},{"c":38,"x":26.5,"y":370},{"c":38,"x":28,"y":340},{"c":38,"x":29.5,"y":305},{"c":38,"x":31,"y":268},{"c":38,"x":32.5,"y":228},{"c":38,"x":34,"y":186},{"c":38,"x":35.5,"y":144},{"c":38,"x":37,"y":104},{"c":38,"x":38.5,"y":66},{"c":38,"x":40,"y":34},{"c":38,"x":41.5,"y":10},{"c":38,"x":43,"y":0},{"c":38,"x":55,"y":0},{"c":38,"x":60,"y":8},{"c":38,"x":65,"y":18},{"c":38,"x":70,"y":25},{"c":38,"x":74,"y":30},{"c":38,"x":78,"y":28},{"c":38,"x":82,"y":20},{"c":38,"x":86,"y":12},{"c":38,"x":90,"y":5},{"c":38,"x":93,"y":0},
{"c":39,"x":0.3,"y":260},{"c":39,"x":1.4,"y":190},{"c":39,"x":2.2,"y":268},{"c":39,"x":3.2,"y":330},{"c":39,"x":4.4,"y":372},{"c":39,"x":5.8,"y":400},{"c":39,"x":7.2,"y":418},{"c":39,"x":8.6,"y":428},{"c":39,"x":10,"y":432},{"c":39,"x":11.5,"y":432},{"c":39,"x":13,"y":428},{"c":39,"x":14.5,"y":420},{"c":39,"x":16,"y":408},{"c":39,"x":17.5,"y":392},{"c":39,"x":19,"y":370},{"c":39,"x":20.5,"y":342},{"c":39,"x":22,"y":310},{"c":39,"x":23.5,"y":275},{"c":39,"x":25,"y":238},{"c":39,"x":26.5,"y":200},{"c":39,"x":28,"y":160},{"c":39,"x":29.5,"y":120},{"c":39,"x":31,"y":82},{"c":39,"x":32.5,"y":48},{"c":39,"x":34,"y":20},{"c":39,"x":35.5,"y":4},{"c":39,"x":37,"y":0},{"c":39,"x":39,"y":10},{"c":39,"x":41,"y":0},{"c":39,"x":50,"y":0},{"c":39,"x":54,"y":6},{"c":39,"x":58,"y":14},{"c":39,"x":62,"y":20},{"c":39,"x":66,"y":25},{"c":39,"x":70,"y":22},{"c":39,"x":74,"y":15},{"c":39,"x":78,"y":6},{"c":39,"x":82,"y":0},
{"c":40,"x":0.5,"y":150},{"c":40,"x":1.5,"y":110},{"c":40,"x":2.5,"y":165},{"c":40,"x":3.8,"y":215},{"c":40,"x":5.2,"y":258},{"c":40,"x":6.6,"y":294},{"c":40,"x":8,"y":325},{"c":40,"x":9.5,"y":352},{"c":40,"x":11,"y":375},{"c":40,"x":12.5,"y":392},{"c":40,"x":14,"y":404},{"c":40,"x":15.5,"y":410},{"c":40,"x":17,"y":412},{"c":40,"x":18.5,"y":412},{"c":40,"x":20,"y":408},{"c":40,"x":21.5,"y":398},{"c":40,"x":23,"y":382},{"c":40,"x":24.5,"y":360},{"c":40,"x":26,"y":334},{"c":40,"x":27.5,"y":304},{"c":40,"x":29,"y":270},{"c":40,"x":30.5,"y":233},{"c":40,"x":32,"y":194},{"c":40,"x":33.5,"y":153},{"c":40,"x":35,"y":112},{"c":40,"x":36.5,"y":74},{"c":40,"x":38,"y":42},{"c":40,"x":39.5,"y":16},{"c":40,"x":41,"y":3},{"c":40,"x":42.5,"y":0},{"c":40,"x":52,"y":0},{"c":40,"x":56,"y":10},{"c":40,"x":60,"y":20},{"c":40,"x":64,"y":30},{"c":40,"x":68,"y":38},{"c":40,"x":72,"y":44},{"c":40,"x":76,"y":48},{"c":40,"x":80,"y":44},{"c":40,"x":84,"y":36},{"c":40,"x":88,"y":24},{"c":40,"x":92,"y":12},{"c":40,"x":95,"y":4},{"c":40,"x":98,"y":0},
{"c":41,"x":0.5,"y":170},{"c":41,"x":1.5,"y":130},{"c":41,"x":3,"y":190},{"c":41,"x":5,"y":240},{"c":41,"x":7,"y":280},{"c":41,"x":9,"y":310},{"c":41,"x":11,"y":335},{"c":41,"x":13,"y":355},{"c":41,"x":15,"y":370},{"c":41,"x":17,"y":380},{"c":41,"x":19,"y":385},{"c":41,"x":21,"y":380},{"c":41,"x":23,"y":365},{"c":41,"x":25,"y":335},{"c":41,"x":27,"y":295},{"c":41,"x":29,"y":250},{"c":41,"x":31,"y":200},{"c":41,"x":33,"y":150},{"c":41,"x":35,"y":100},{"c":41,"x":37,"y":55},{"c":41,"x":39,"y":20},{"c":41,"x":41,"y":3},{"c":41,"x":43,"y":0},{"c":41,"x":50,"y":0},
{"c":42,"x":0.5,"y":100},{"c":42,"x":1.5,"y":80},{"c":42,"x":3,"y":140},{"c":42,"x":5,"y":200},{"c":42,"x":7,"y":250},{"c":42,"x":9,"y":290},{"c":42,"x":11,"y":320},{"c":42,"x":13,"y":345},{"c":42,"x":15,"y":362},{"c":42,"x":17,"y":372},{"c":42,"x":19,"y":375},{"c":42,"x":21,"y":368},{"c":42,"x":23,"y":345},{"c":42,"x":25,"y":310},{"c":42,"x":27,"y":270},{"c":42,"x":29,"y":225},{"c":42,"x":31,"y":178},{"c":42,"x":33,"y":130},{"c":42,"x":35,"y":85},{"c":42,"x":37,"y":45},{"c":42,"x":39,"y":15},{"c":42,"x":41,"y":2},{"c":42,"x":44,"y":0},{"c":42,"x":52,"y":0},{"c":42,"x":57,"y":10},{"c":42,"x":62,"y":22},{"c":42,"x":66,"y":30},{"c":42,"x":70,"y":26},{"c":42,"x":74,"y":18},{"c":42,"x":78,"y":8},{"c":42,"x":81,"y":0},
{"c":43,"x":0.3,"y":320},{"c":43,"x":1.2,"y":260},{"c":43,"x":2,"y":330},{"c":43,"x":3,"y":390},{"c":43,"x":4,"y":420},{"c":43,"x":5,"y":445},{"c":43,"x":6,"y":438},{"c":43,"x":7.5,"y":458},{"c":43,"x":9,"y":465},{"c":43,"x":10.5,"y":458},{"c":43,"x":12,"y":450},{"c":43,"x":13.5,"y":435},{"c":43,"x":15,"y":415},{"c":43,"x":16.5,"y":390},{"c":43,"x":18,"y":358},{"c":43,"x":19.5,"y":322},{"c":43,"x":21,"y":285},{"c":43,"x":22.5,"y":245},{"c":43,"x":24,"y":205},{"c":43,"x":25.5,"y":165},{"c":43,"x":27,"y":125},{"c":43,"x":28.5,"y":88},{"c":43,"x":30,"y":52},{"c":43,"x":31.5,"y":22},{"c":43,"x":33,"y":4},{"c":43,"x":34.5,"y":0},{"c":43,"x":44,"y":0},
{"c":44,"x":0.3,"y":180},{"c":44,"x":1.2,"y":120},{"c":44,"x":2,"y":230},{"c":44,"x":2.8,"y":310},{"c":44,"x":3.6,"y":360},{"c":44,"x":4.5,"y":395},{"c":44,"x":5.5,"y":415},{"c":44,"x":7,"y":425},{"c":44,"x":8.5,"y":420},{"c":44,"x":10,"y":432},{"c":44,"x":11.5,"y":428},{"c":44,"x":13,"y":420},{"c":44,"x":14.5,"y":408},{"c":44,"x":16,"y":390},{"c":44,"x":17.5,"y":366},{"c":44,"x":19,"y":336},{"c":44,"x":20.5,"y":302},{"c":44,"x":22,"y":265},{"c":44,"x":23.5,"y":226},{"c":44,"x":25,"y":186},{"c":44,"x":26.5,"y":146},{"c":44,"x":28,"y":108},{"c":44,"x":29.5,"y":72},{"c":44,"x":31,"y":40},{"c":44,"x":32.5,"y":14},{"c":44,"x":34,"y":2},{"c":44,"x":35.5,"y":0},{"c":44,"x":46,"y":0},{"c":44,"x":49,"y":8},{"c":44,"x":52,"y":14},{"c":44,"x":55,"y":8},{"c":44,"x":58,"y":0}
],
"axes":[{"x":0,"y":0,"x2":0,"y2":600},{"x":0,"y":0,"x2":100,"y2":0}]
},
"encoding":{
"x":{"field":"x","type":"quantitative","scale":{"domain":[-36.33,111.01],"nice":false,"zero":false},"axis":{"values":[0,50,100],"orient":"bottom","offset":-75,"labelPadding":9}},
"y":{"field":"y","type":"quantitative","scale":{"domain":[-81.08,671.35],"nice":false,"zero":false},"axis":{"values":[0,100,200,300,400,500,600],"orient":"left","offset":-198,"labelPadding":{"condition":{"test":"datum.value === 0","value":15},"value":31}}}
},
"layer":[
{"data":{"name":"curves"},"mark":{"type":"line","color":"#000000","strokeWidth":1.9},"encoding":{"detail":{"field":"c","type":"nominal"}}},
{"data":{"name":"axes"},"mark":{"type":"rule","color":"#000000","strokeWidth":2},"encoding":{"x2":{"field":"x2"},"y2":{"field":"y2"}}}
]
}
